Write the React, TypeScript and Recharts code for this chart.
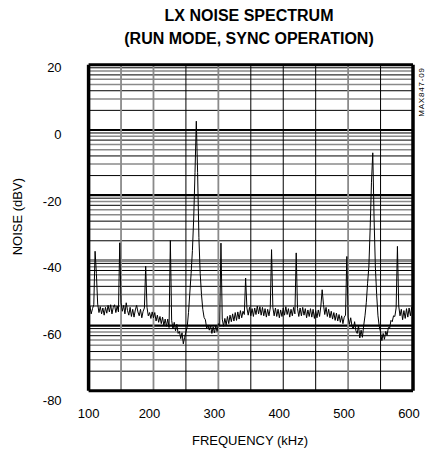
import React from 'react';
import { LineChart, Line, XAxis, YAxis, ReferenceLine } from 'recharts';

const freqKHz = [
  100, 102, 104, 106, 108, 110, 112, 114, 116, 118,
  120, 122, 124, 126, 128, 130, 132, 134, 136, 138,
  140, 142, 144, 146, 148, 150, 152, 154, 156, 158,
  160, 162, 164, 166, 168, 170, 172, 174, 176, 178,
  180, 182, 184, 186, 188, 190, 192, 194, 196, 198,
  200, 202, 204, 206, 208, 210, 212, 214, 216, 218,
  220, 222, 224, 226, 228, 230, 232, 234, 236, 238,
  240, 242, 244, 246, 248, 250, 252, 254, 256, 258,
  260, 262, 264, 266, 268, 270, 272, 274, 276, 278,
  280, 282, 284, 286, 288, 290, 292, 294, 296, 298,
  300, 302, 304, 306, 308, 310, 312, 314, 316, 318,
  320, 322, 324, 326, 328, 330, 332, 334, 336, 338,
  340, 342, 344, 346, 348, 350, 352, 354, 356, 358,
  360, 362, 364, 366, 368, 370, 372, 374, 376, 378,
  380, 382, 384, 386, 388, 390, 392, 394, 396, 398,
  400, 402, 404, 406, 408, 410, 412, 414, 416, 418,
  420, 422, 424, 426, 428, 430, 432, 434, 436, 438,
  440, 442, 444, 446, 448, 450, 452, 454, 456, 458,
  460, 462, 464, 466, 468, 470, 472, 474, 476, 478,
  480, 482, 484, 486, 488, 490, 492, 494, 496, 498,
  500, 502, 504, 506, 508, 510, 512, 514, 516, 518,
  520, 522, 524, 526, 528, 530, 532, 534, 536, 538,
  540, 542, 544, 546, 548, 550, 552, 554, 556, 558,
  560, 562, 564, 566, 568, 570, 572, 574, 576, 578,
  580, 582, 584, 586, 588, 590, 592, 594, 596, 598,
  600,
];

const noiseDbv = [
  -56.2, -54.0, -56.4, -54.8, -53.6, -37.2, -44.0, -53.4, -56.0, -54.2,
  -56.4, -54.6, -56.8, -54.4, -56.2, -53.8, -55.8, -53.6, -56.4, -54.4,
  -53.6, -56.0, -54.0, -55.8, -34.6, -53.0, -55.6, -53.8, -56.4, -53.0,
  -55.4, -56.8, -54.4, -57.2, -55.0, -57.4, -55.2, -53.8, -55.8, -57.0,
  -55.0, -57.6, -55.6, -54.6, -41.8, -54.4, -57.0, -56.0, -57.8, -55.8,
  -57.6, -56.0, -58.6, -56.8, -59.0, -57.2, -59.4, -57.4, -60.0, -58.0,
  -60.2, -58.0, -60.6, -33.9, -58.4, -61.0, -59.0, -61.6, -59.6, -62.4,
  -61.8, -64.0, -62.2, -65.6, -63.6, -62.0, -60.4, -56.0, -50.0, -44.0,
  -37.0, -27.0, -13.0, 2.7, -13.0, -33.0, -44.0, -50.5, -55.0, -57.5,
  -58.2, -60.8, -59.8, -61.4, -60.0, -62.4, -60.4, -62.2, -60.0, -61.8,
  -59.4, -60.2, -34.7, -58.0, -60.2, -57.8, -59.8, -57.2, -59.4, -56.8,
  -58.8, -56.4, -58.6, -56.0, -58.4, -55.8, -58.0, -55.4, -57.6, -55.6,
  -56.6, -45.4, -54.6, -56.8, -54.4, -57.0, -54.8, -57.2, -54.6, -56.6,
  -54.0, -56.4, -54.2, -56.8, -54.4, -57.0, -54.8, -57.4, -55.0, -57.0,
  -54.6, -36.7, -54.4, -57.0, -54.6, -57.2, -55.0, -57.6, -55.2, -57.2,
  -54.6, -56.8, -54.2, -56.6, -54.8, -57.4, -55.0, -57.0, -54.4, -56.4,
  -37.7, -54.8, -57.2, -54.6, -57.0, -54.4, -56.8, -54.8, -57.6, -55.2,
  -57.2, -54.8, -57.4, -55.0, -57.8, -55.4, -57.6, -55.2, -57.2, -54.0,
  -49.0, -53.5, -56.6, -54.4, -57.2, -55.0, -57.6, -55.6, -58.0, -56.0,
  -58.4, -56.2, -58.6, -56.6, -59.0, -57.0, -59.4, -57.4, -56.8, -38.8,
  -57.4, -59.6, -57.6, -60.2, -61.0, -58.8, -61.6, -62.4, -60.0, -63.8,
  -61.4, -63.6, -60.0, -57.0, -53.0, -47.0, -41.8, -30.0, -16.0, -7.0,
  -27.0, -42.0, -50.5, -57.0, -60.3, -62.0, -64.6, -62.4, -64.2, -61.8,
  -63.0, -60.6, -60.8, -58.4, -58.8, -57.0, -57.2, -54.6, -35.7, -54.0,
  -57.0, -55.0, -58.2, -55.4, -57.8, -54.8, -57.4, -54.6, -57.0, -54.4,
  -56.0,
];

const xTicks = [100, 200, 300, 400, 500, 600];
const yTicks = [-80, -60, -40, -20, 0, 20];

// graph-paper grid
const xGridKHz = [150, 200, 250, 300, 350, 400, 450, 500, 550];
const xGridShade = ['gray', 'gray', 'black', 'gray', 'black', 'black', 'black', 'gray', 'black'];
const decadeBases = [-80, -60, -40, -20, 0];
const minorSteps = [2, 3, 4, 5, 6, 7, 8, 9];
const minorShade = ['black', 'gray', 'black', 'gray', 'gray', 'black', 'gray', 'black'];
const decadeLines = [-60, -40, -20, 0];
const decadeShade = ['black', 'gray', 'black', 'black'];
// plot frame at the domain edges
const frameX = [100, 600];
const frameY = [-80, 20];

const FONT = '"Liberation Sans", Arial, Helvetica, sans-serif';
const GRAY = '#8a8a8a';

const data = freqKHz.map((f, i) => ({ f, v: noiseDbv[i] }));

const minorLines: { y: number; shade: string }[] = [];
decadeBases.forEach((b) => {
  minorSteps.forEach((k, j) => {
    minorLines.push({ y: b + 20 * Math.log10(k), shade: minorShade[j] });
  });
});

const XTick = (props: any) => {
  const { x, y, payload } = props;
  const dx = payload.value === 100 ? 0 : -4;
  return (
    <text x={x + dx} y={y} dy="0.71em" textAnchor="middle" fontSize={13} fill="#000" fontFamily={FONT}>
      {payload.value}
    </text>
  );
};

const YTick = (props: any) => {
  const { x, y, payload } = props;
  const off = 3 + (20 - payload.value) * 0.07;
  return (
    <text x={x} y={y + off} dy="0.355em" textAnchor="end" fontSize={13} fill="#000" fontFamily={FONT}>
      {payload.value}
    </text>
  );
};

export default function App() {
  return (
    <div style={{ position: 'absolute', left: 0, top: 0, width: 425, height: 451, background: '#fff' }}>
      <LineChart
        width={425}
        height={451}
        data={data}
        margin={{ top: 64.8, right: 12, bottom: 30.2, left: 0 }}
      >
        <XAxis
          dataKey="f"
          type="number"
          domain={[100, 600]}
          ticks={xTicks}
          tick={<XTick />}
          tickLine={false}
          axisLine={false}
          tickSize={6}
          tickMargin={12}
          height={30}
          allowDataOverflow
        />
        <YAxis
          type="number"
          domain={[-80, 20]}
          ticks={yTicks}
          tick={<YTick />}
          tickLine={false}
          axisLine={false}
          tickSize={6}
          tickMargin={21}
          width={88.6}
          allowDataOverflow
        />
        {minorLines.map((m, i) => (
          <ReferenceLine
            key={'m' + i}
            y={m.y}
            stroke={m.shade === 'black' ? '#000' : GRAY}
            strokeWidth={m.shade === 'black' ? 1 : 1.5}
          />
        ))}
        {decadeLines.map((d, i) => (
          <ReferenceLine
            key={'d' + i}
            y={d}
            stroke={decadeShade[i] === 'black' ? '#000' : GRAY}
            strokeWidth={decadeShade[i] === 'black' ? 2.2 : 3}
          />
        ))}
        {xGridKHz.map((g, i) => (
          <ReferenceLine
            key={'x' + i}
            x={g}
            stroke={xGridShade[i] === 'black' ? '#000' : GRAY}
            strokeWidth={xGridShade[i] === 'black' ? 1 : 1.8}
          />
        ))}
        <Line
          type="linear"
          dataKey="v"
          stroke="#000"
          strokeWidth={1}
          dot={false}
          isAnimationActive={false}
        />
        {frameX.map((fx) => (
          <ReferenceLine key={'fx' + fx} x={fx} stroke="#000" strokeWidth={3.5} ifOverflow="visible" />
        ))}
        {frameY.map((fy) => (
          <ReferenceLine key={'fy' + fy} y={fy} stroke="#000" strokeWidth={3} ifOverflow="visible" />
        ))}
      </LineChart>
      <svg width={425} height={451} style={{ position: 'absolute', left: 0, top: 0, pointerEvents: 'none' }}>
        <text x={249} y={20.7} textAnchor="middle" fontSize={16} fontWeight="bold" fontFamily={FONT} fill="#000">
          LX NOISE SPECTRUM
        </text>
        <text x={249} y={43.5} textAnchor="middle" fontSize={16} fontWeight="bold" fontFamily={FONT} fill="#000">
          (RUN MODE, SYNC OPERATION)
        </text>
        <text x={250} y={445} textAnchor="middle" fontSize={13} fontFamily={FONT} fill="#000">
          FREQUENCY (kHz)
        </text>
        <text
          x={22.5}
          y={216.7}
          textAnchor="middle"
          fontSize={13}
          fontFamily={FONT}
          fill="#000"
          transform="rotate(-90 22.5 216.7)"
        >
          NOISE (dBV)
        </text>
        <text
          x={424}
          y={92}
          textAnchor="middle"
          fontSize={8}
          letterSpacing={0.8}
          fontFamily={FONT}
          fill="#000"
          transform="rotate(-90 424 92)"
        >
          MAX847-09
        </text>
      </svg>
    </div>
  );
}
